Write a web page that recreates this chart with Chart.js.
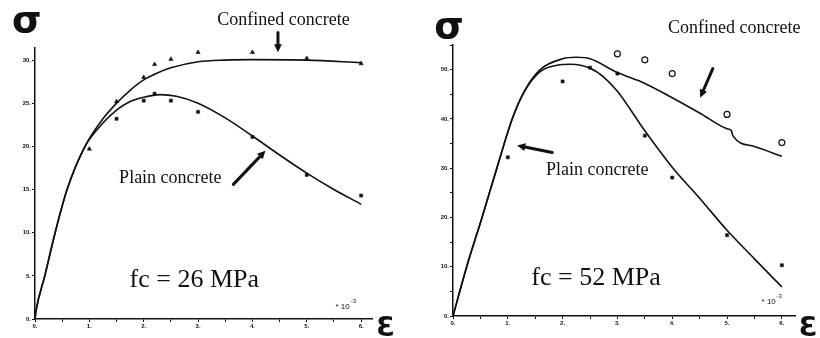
<!DOCTYPE html>
<html lang="en">
<head>
  <meta charset="UTF-8">
  <style>
    body {
      margin: 0;
      background-color: #fff;
      width: 820px;
      height: 338px;
      position: relative;
      overflow: hidden;
    }
    .panel {
      position: absolute;
      top: 0;
      width: 410px;
      height: 338px;
    }
    #left { left: 0; }
    #right { left: 410px; }
  </style>
</head>
<body>
  <div class="panel" id="left"><canvas id="chartLeft" width="410" height="338"></canvas></div>
  <div class="panel" id="right"><canvas id="chartRight" width="410" height="338"></canvas></div>

  <script src="https://cdn.jsdelivr.net/npm/chart.js"></script>
  <script>
    // fc = 26 MPa : fitted curves (strain x10^-3, stress MPa)
    const confStrainL = [0, 0.02, 0.18, 0.37, 0.59, 0.92, 1.25, 1.5, 1.75, 2.0, 2.25, 2.5, 3.0, 3.5, 4.0, 5.0, 6.0];
    const confCurveL  = [0, 1, 5, 10, 15, 20, 23.2, 25.0, 26.5, 27.7, 28.5, 29.1, 29.8, 30.0, 30.05, 30.0, 29.7];
    const plainStrainL = [0, 0.02, 0.18, 0.37, 0.59, 0.92, 1.25, 1.5, 1.75, 2.0, 2.3, 2.6, 3.0, 3.5, 4.0, 4.5, 5.0, 5.5, 6.0];
    const plainCurveL  = [0, 1, 5, 10, 15, 20, 22.7, 24.2, 25.2, 25.7, 26.0, 25.8, 25.0, 23.3, 21.2, 19.0, 16.9, 15.0, 13.3];
    // fc = 26 MPa : test points
    const confTestStrainL = [1.0, 1.5, 2.0, 2.2, 2.5, 3.0, 4.0, 5.0, 6.0];
    const confTestL       = [19.7, 25.2, 28.0, 29.5, 30.1, 30.9, 30.9, 30.2, 29.6];
    const plainTestStrainL = [1.5, 2.0, 2.2, 2.5, 3.0, 4.0, 5.0, 6.0];
    const plainTestL       = [23.2, 25.3, 26.1, 25.3, 24.0, 21.1, 16.7, 14.3];

    // fc = 52 MPa : fitted curves
    const confStrainR = [0, 0.25, 0.53, 0.8, 1.08, 1.3, 1.59, 2.0, 2.25, 2.5, 3.0, 3.5, 4.0, 4.5, 5.0, 5.08, 5.11, 5.5, 6.0];
    const confCurveR  = [0, 10, 20, 30, 40, 45.6, 50, 52.2, 52.5, 52.2, 49.4, 47.2, 44.3, 41.2, 38.0, 37.6, 36.5, 34.4, 32.4];
    const plainStrainR = [0, 0.25, 0.53, 0.8, 1.08, 1.3, 1.59, 1.9, 2.15, 2.5, 2.75, 3.0, 3.5, 4.0, 4.5, 5.0, 5.5, 6.0];
    const plainCurveR  = [0, 10, 20, 30, 40, 45.5, 49.6, 50.9, 51.1, 50.3, 48.5, 45.6, 37.6, 30.2, 23.9, 17.4, 11.6, 5.9];
    // fc = 52 MPa : test points
    const confTestStrainR = [3.0, 3.5, 4.0, 5.0, 6.0];
    const confTestR       = [53.2, 52.0, 49.2, 40.9, 35.2];
    const plainTestStrainR = [1.0, 2.0, 2.5, 3.0, 3.5, 4.0, 5.0, 6.0];
    const plainTestR       = [32.2, 47.6, 50.4, 49.2, 36.6, 28.1, 16.4, 10.3];

    const xTicks = [0, 1, 2, 3, 4, 5, 6];
    const yTicksL = [0, 5, 10, 15, 20, 25, 30];
    const yTicksR = [0, 10, 20, 30, 40, 50];

    const INK = '#111';

    function pts(xs, ys) {
      return xs.map((x, i) => ({ x: x, y: ys[i] }));
    }

    // text and arrows placed in data units of each panel
    const notesLeft = [
      { text: 'σ', x: -0.15, y: 33.2, font: 'bold 38px "DejaVu Sans"', base: 'alphabetic' },
      { text: 'Ɛ', x: 6.45, y: -2.0, font: 'bold 27px "DejaVu Sans"', base: 'alphabetic' },
      { text: 'Confined concrete', x: 4.57, y: 34.6, font: '18px "Liberation Serif"' },
      { text: 'Plain concrete', x: 2.49, y: 16.3, font: '18px "Liberation Serif"' },
      { text: 'fc = 26 MPa', x: 2.93, y: 4.5, font: '26px "Liberation Serif"' },
      { text: '* 10', x: 5.66, y: 1.4, font: '8px "Liberation Sans"' },
      { text: '-3', x: 5.86, y: 2.1, font: '6px "Liberation Sans"' },
      { arrow: [4.47, 33.2, 4.47, 30.9] },
      { arrow: [3.65, 15.6, 4.24, 19.5] }
    ];
    const notesRight = [
      { text: 'σ', x: -0.07, y: 56.4, font: 'bold 38px "DejaVu Sans"', base: 'alphabetic' },
      { text: 'Ɛ', x: 6.48, y: -4.1, font: 'bold 27px "DejaVu Sans"', base: 'alphabetic' },
      { text: 'Confined concrete', x: 5.13, y: 58.3, font: '18px "Liberation Serif"' },
      { text: 'Plain concrete', x: 2.63, y: 29.6, font: '18px "Liberation Serif"' },
      { text: 'fc = 52 MPa', x: 2.61, y: 7.7, font: '26px "Liberation Serif"' },
      { text: '* 10', x: 5.76, y: 2.8, font: '8px "Liberation Sans"' },
      { text: '-3', x: 5.95, y: 4.0, font: '6px "Liberation Sans"' },
      { arrow: [4.74, 50.2, 4.51, 44.3] },
      { arrow: [1.81, 33.2, 1.17, 34.6] }
    ];

    const notesPlugin = {
      id: 'notes',
      afterDraw(chart, args, opts) {
        const ctx = chart.ctx;
        const sx = chart.scales.x, sy = chart.scales.y;
        ctx.save();
        ctx.fillStyle = INK;
        ctx.strokeStyle = INK;
        ctx.textAlign = 'center';
        opts.items.forEach(n => {
          if (n.text) {
            ctx.font = n.font;
            ctx.textBaseline = n.base || 'middle';
            ctx.fillText(n.text, sx.getPixelForValue(n.x), sy.getPixelForValue(n.y));
          } else {
            const x1 = sx.getPixelForValue(n.arrow[0]), y1 = sy.getPixelForValue(n.arrow[1]);
            const x2 = sx.getPixelForValue(n.arrow[2]), y2 = sy.getPixelForValue(n.arrow[3]);
            const a = Math.atan2(y2 - y1, x2 - x1);
            const head = 9;
            ctx.lineWidth = 3;
            ctx.lineCap = 'round';
            ctx.beginPath();
            ctx.moveTo(x1, y1);
            ctx.lineTo(x2 - Math.cos(a) * head * 0.6, y2 - Math.sin(a) * head * 0.6);
            ctx.stroke();
            ctx.beginPath();
            ctx.moveTo(x2, y2);
            ctx.lineTo(x2 - head * Math.cos(a - 0.45), y2 - head * Math.sin(a - 0.45));
            ctx.lineTo(x2 - head * Math.cos(a + 0.45), y2 - head * Math.sin(a + 0.45));
            ctx.closePath();
            ctx.fill();
          }
        });
        ctx.restore();
      }
    };

    function makeChart(id, cfg) {
      const tickFont = { size: 6, weight: 'bold', family: '"Liberation Sans", Arial, sans-serif' };
      const isCircle = cfg.confStyle === 'circle';
      return new Chart(document.getElementById(id), {
        type: 'scatter',
        data: {
          datasets: [
            {
              data: pts(cfg.confX, cfg.confY), showLine: true, pointRadius: 0,
              borderColor: INK, borderWidth: 1.6, cubicInterpolationMode: 'monotone'
            },
            {
              data: pts(cfg.plainX, cfg.plainY), showLine: true, pointRadius: 0,
              borderColor: INK, borderWidth: 1.6, cubicInterpolationMode: 'monotone'
            },
            {
              data: pts(cfg.confTX, cfg.confTY), pointStyle: cfg.confStyle,
              pointRadius: isCircle ? 3 : 2.4,
              backgroundColor: isCircle ? '#fff' : INK,
              borderColor: INK, borderWidth: isCircle ? 1.2 : 0.6
            },
            {
              data: pts(cfg.plainTX, cfg.plainTY), pointStyle: 'rect', pointRadius: 2.2,
              backgroundColor: INK, borderColor: INK, borderWidth: 0.5
            }
          ]
        },
        options: {
          responsive: false,
          animation: false,
          devicePixelRatio: 1,
          layout: { padding: cfg.padding },
          plugins: {
            legend: { display: false },
            tooltip: { enabled: false },
            notes: { items: cfg.notes }
          },
          scales: {
            x: {
              type: 'linear',
              min: 0,
              max: cfg.xMax,
              afterFit: s => { s.height = cfg.xAxisH; },
              border: { color: INK, width: 1.5 },
              grid: { drawOnChartArea: false, color: INK, tickLength: 3, lineWidth: 1 },
              ticks: {
                stepSize: 0.5,
                includeBounds: false,
                autoSkip: false,
                maxRotation: 0,
                padding: 1,
                color: INK,
                font: tickFont,
                callback: v => xTicks.includes(v) ? v + '.' : ''
              }
            },
            y: {
              type: 'linear',
              min: 0,
              max: cfg.yMax,
              afterFit: s => { s.width = cfg.yAxisW; },
              border: { color: INK, width: 1.5 },
              grid: { drawOnChartArea: false, color: INK, tickLength: 3, lineWidth: 1 },
              ticks: {
                stepSize: 5,
                includeBounds: false,
                autoSkip: false,
                padding: 1,
                color: INK,
                font: tickFont,
                callback: v => cfg.yTicks.includes(v) ? v + '.' : ''
              }
            }
          }
        },
        plugins: [notesPlugin]
      });
    }

    makeChart('chartLeft', {
      confX: confStrainL, confY: confCurveL,
      plainX: plainStrainL, plainY: plainCurveL,
      confTX: confTestStrainL, confTY: confTestL, confStyle: 'triangle',
      plainTX: plainTestStrainL, plainTY: plainTestL,
      xMax: 6.2, yMax: 31.4, yTicks: yTicksL,
      yAxisW: 35, xAxisH: 19,
      padding: { top: 48, right: 38, left: 0, bottom: 0 },
      notes: notesLeft
    });

    makeChart('chartRight', {
      confX: confStrainR, confY: confCurveR,
      plainX: plainStrainR, plainY: plainCurveR,
      confTX: confTestStrainR, confTY: confTestR, confStyle: 'circle',
      plainTX: plainTestStrainR, plainTY: plainTestR,
      xMax: 6.24, yMax: 55, yTicks: yTicksR,
      yAxisW: 43, xAxisH: 22,
      padding: { top: 45, right: 25, left: 0, bottom: 0 },
      notes: notesRight
    });
  </script>
</body>
</html>
